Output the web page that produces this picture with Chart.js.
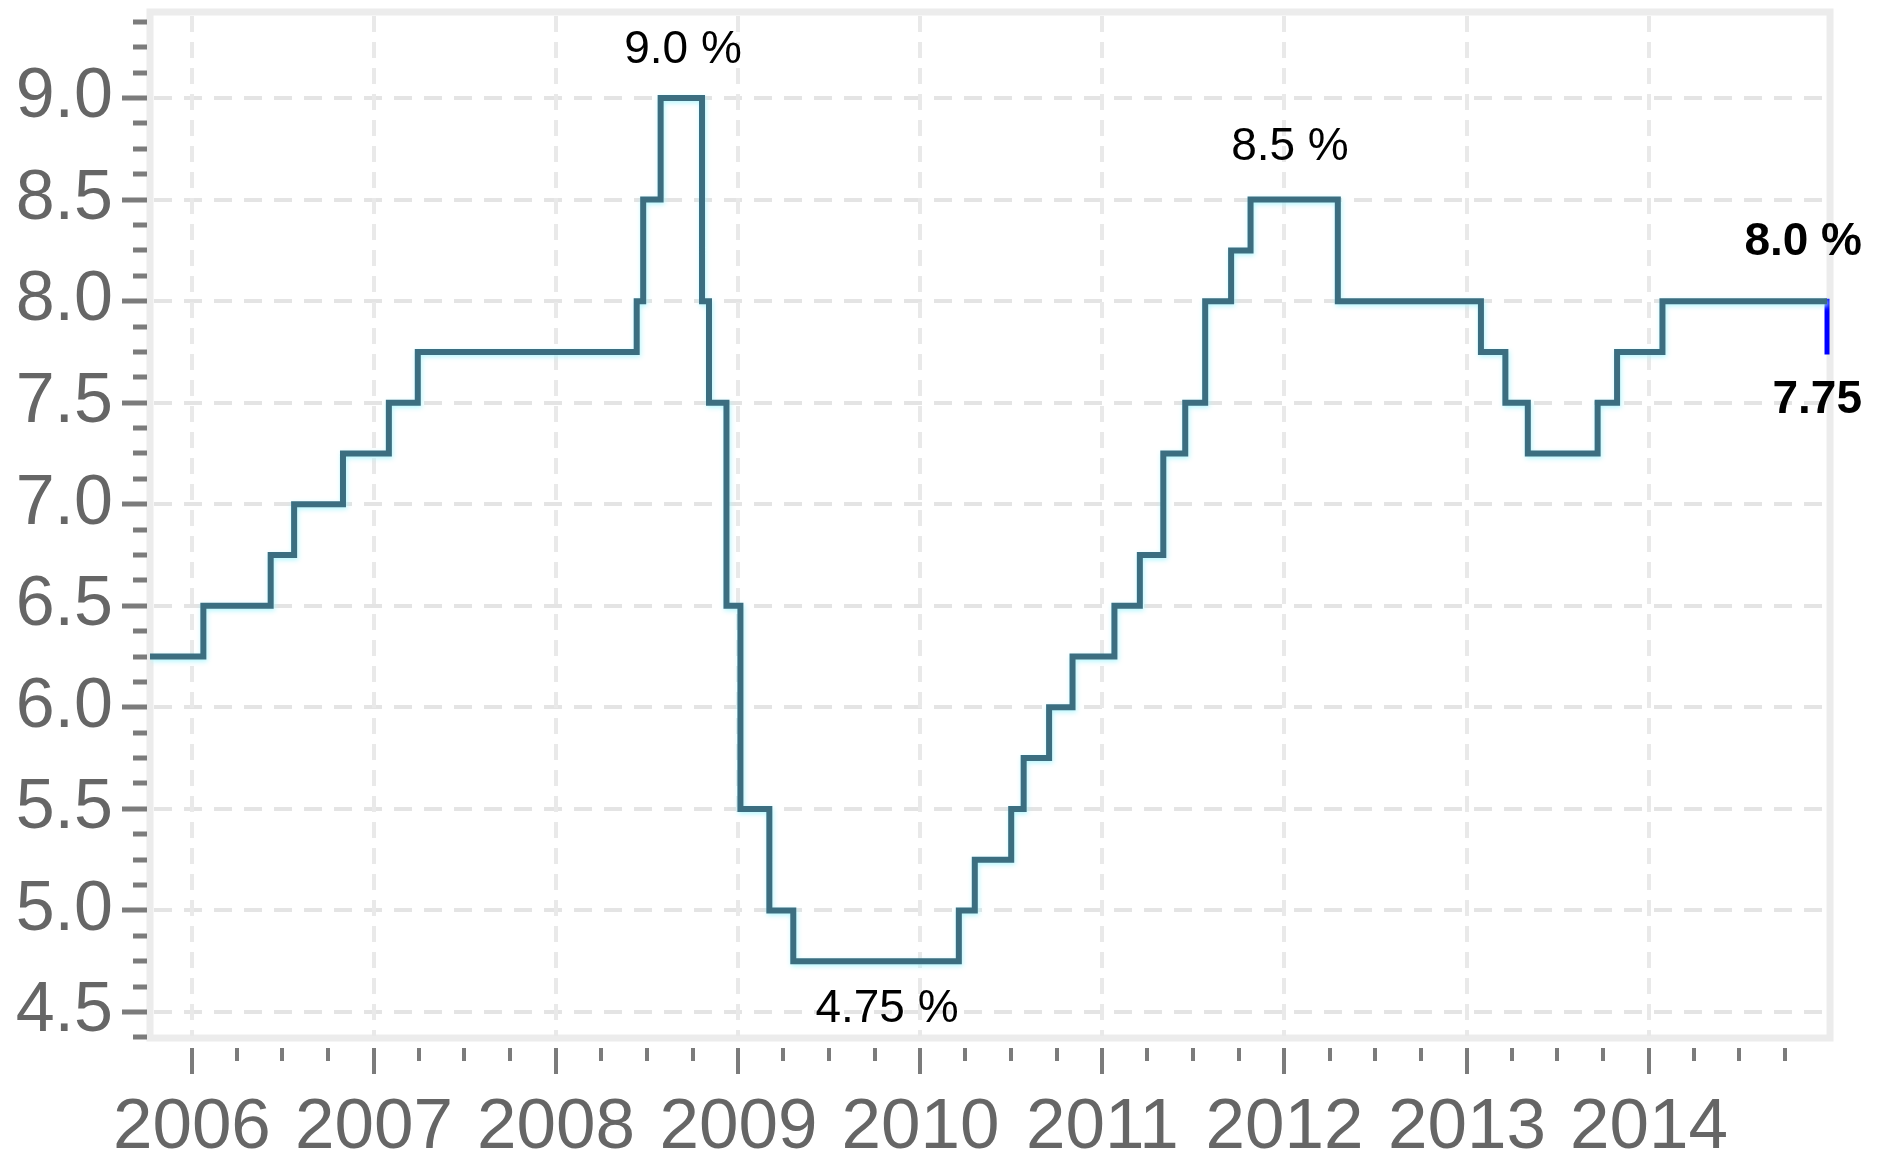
<!DOCTYPE html>
<html>
<head>
<meta charset="utf-8">
<script src="https://cdn.jsdelivr.net/npm/chart.js@4.4.1/dist/chart.umd.min.js"></script>
<style>
html,body{margin:0;padding:0;background:#fff;overflow:hidden}
#wrap{width:1885px;height:1158px}
canvas{display:block}
</style>
</head>
<body>
<div id="wrap"><canvas id="c" width="1885" height="1158"></canvas></div>
<script>
// ---- data ----
const changeDates = ['2005-10-09','2006-01-24','2006-06-08','2006-07-25','2006-10-31','2007-01-31','2007-03-30',
  '2008-06-11','2008-06-24','2008-07-29','2008-10-20','2008-11-03','2008-12-08','2009-01-05','2009-03-04','2009-04-21',
  '2010-03-19','2010-04-20','2010-07-02','2010-07-27','2010-09-16','2010-11-02','2011-01-25','2011-03-17','2011-05-03',
  '2011-06-16','2011-07-26','2011-09-16','2011-10-25','2012-04-17','2013-01-29','2013-03-19','2013-05-03','2013-09-20',
  '2013-10-29','2014-01-28','2014-12-24'];
const rates = [6.25,6.50,6.75,7.00,7.25,7.50,7.75,
  8.00,8.50,9.00,8.00,7.50,6.50,5.50,5.00,4.75,
  5.00,5.25,5.50,5.75,6.00,6.25,6.50,6.75,7.25,
  7.50,8.00,8.25,8.50,8.00,7.75,7.50,7.25,7.50,
  7.75,8.00,8.00];
const latestDate = '2014-12-24';
const latestValues = [8.0, 7.75];
const yearLabels = ['2006','2007','2008','2009','2010','2011','2012','2013','2014'];
const yTickLabels = ['4.5','5.0','5.5','6.0','6.5','7.0','7.5','8.0','8.5','9.0'];
const annotTexts  = ['9.0 %','4.75 %','8.5 %','8.0 %','7.75'];
const annotDates  = ['2008-09-12','2009-10-26','2012-01-12','2014-12-24','2014-12-24'];
const annotValues = [9.0, 4.75, 8.5, 8.0, 7.75];
const xRange = ['2005-10-09','2014-12-30'];
const yRange = [4.362, 9.409];

// ---- helpers ----
const t = s => Date.parse(s + 'T00:00:00Z');
const yearValues = yearLabels.map(y => t(y + '-01-01'));
const yMajorValues = yTickLabels.map(parseFloat);
const xMin = t(xRange[0]), xMax = t(xRange[1]);

const xTickValues = [];
for (let yr = 2005; yr <= 2015; yr++) {
  ['01','04','07','10'].forEach(m => {
    const v = t(yr + '-' + m + '-01');
    if (v > xMin && v < xMax) xTickValues.push(v);
  });
}
const yTickValues = [];
for (let v = 4.375; v <= 9.38; v += 0.125) yTickValues.push(Math.round(v * 1000) / 1000);

const isMajorY = v => yMajorValues.some(m => Math.abs(m - v) < 1e-6);

const annotStyles = [
  {bold:false, align:'center', dx:0,  dy:-35},
  {bold:false, align:'center', dx:0,  dy:61},
  {bold:false, align:'center', dx:0,  dy:-40},
  {bold:true,  align:'right',  dx:35, dy:-46},
  {bold:true,  align:'right',  dx:35, dy:61}
];

const FONT = "'Liberation Sans', Arial, sans-serif";

const decor = {
  id: 'decor',
  beforeDraw(chart) {
    const c = chart.ctx;
    c.save(); c.fillStyle = '#fff'; c.fillRect(0, 0, chart.width, chart.height); c.restore();
  },
  beforeDatasetsDraw(chart) {
    const {ctx, chartArea: a, scales: {x, y}} = chart;
    ctx.save();
    ctx.strokeStyle = '#ececec'; ctx.lineWidth = 7;
    ctx.strokeRect(a.left, a.top - 3, a.right - a.left, a.bottom - a.top + 1);
    ctx.lineWidth = 4;
    ctx.strokeStyle = '#e4e4e4';
    ctx.setLineDash([18, 12]);
    yMajorValues.forEach(v => {
      const py = Math.round(y.getPixelForValue(v));
      ctx.beginPath(); ctx.moveTo(a.left + 4, py); ctx.lineTo(a.right - 4, py); ctx.stroke();
    });
    ctx.strokeStyle = '#e9e9e9';
    ctx.setLineDash([16, 10]);
    yearValues.forEach(v => {
      const px = Math.round(x.getPixelForValue(v));
      ctx.beginPath(); ctx.moveTo(px, a.top + 1); ctx.lineTo(px, a.bottom - 4); ctx.stroke();
    });
    ctx.restore();
  },
  beforeDatasetDraw(chart, args) {
    if (args.index === 0) {
      const c = chart.ctx; c.save();
      c.shadowColor = 'rgba(175,248,255,0.95)'; c.shadowBlur = 5; c.shadowOffsetX = 1; c.shadowOffsetY = 2;
    }
  },
  afterDatasetDraw(chart, args) {
    if (args.index === 0) chart.ctx.restore();
  },
  afterDraw(chart) {
    const {ctx, chartArea: a, scales: {x, y}} = chart;
    ctx.save();
    ctx.strokeStyle = '#7b7b7b';
    ctx.lineWidth = 5;
    y.ticks.forEach(tk => {
      const py = Math.round(y.getPixelForValue(tk.value));
      const len = isMajorY(tk.value) ? 25 : 14;
      ctx.beginPath(); ctx.moveTo(a.left - 3 - len, py); ctx.lineTo(a.left - 3, py); ctx.stroke();
    });
    ctx.lineWidth = 4;
    x.ticks.forEach(tk => {
      const px = Math.round(x.getPixelForValue(tk.value));
      const len = yearValues.includes(tk.value) ? 26 : 13;
      ctx.beginPath(); ctx.moveTo(px, a.bottom + 8); ctx.lineTo(px, a.bottom + 8 + len); ctx.stroke();
    });
    ctx.fillStyle = '#000';
    ctx.textBaseline = 'alphabetic';
    annotTexts.forEach((txt, i) => {
      const st = annotStyles[i];
      ctx.font = (st.bold ? 'bold ' : '') + '46px ' + FONT;
      ctx.textAlign = st.align;
      ctx.fillText(txt, x.getPixelForValue(t(annotDates[i])) + st.dx, y.getPixelForValue(annotValues[i]) + st.dy);
    });
    ctx.restore();
  }
};

new Chart(document.getElementById('c'), {
  type: 'line',
  data: {
    datasets: [
      {
        data: changeDates.map((d, i) => ({x: t(d), y: rates[i]})),
        stepped: 'before',
        borderColor: '#3c6e80',
        borderWidth: 6,
        borderJoinStyle: 'miter',
        borderCapStyle: 'butt',
        pointRadius: 0,
        fill: false
      },
      {
        data: latestValues.map(v => ({x: t(latestDate), y: v})),
        borderColor: '#0000ff',
        borderWidth: 5,
        borderCapStyle: 'square',
        pointRadius: 0,
        fill: false
      }
    ]
  },
  options: {
    responsive: false,
    animation: false,
    devicePixelRatio: 1,
    layout: {padding: {left: 0, top: 15, right: 55, bottom: 0}},
    plugins: {legend: {display: false}, tooltip: {enabled: false}},
    scales: {
      x: {
        type: 'linear',
        min: xMin, max: xMax,
        grid: {display: false, drawTicks: false},
        border: {display: false},
        afterBuildTicks: s => { s.ticks = xTickValues.map(v => ({value: v})); },
        afterFit: s => { s.height = 118; s.paddingLeft = 0; s.paddingRight = 0; },
        ticks: {
          autoSkip: false, maxRotation: 0, minRotation: 0, padding: 46,
          color: '#666', font: {family: FONT, size: 71},
          callback: v => { const i = yearValues.indexOf(v); return i >= 0 ? yearLabels[i] : ''; }
        }
      },
      y: {
        type: 'linear',
        min: yRange[0], max: yRange[1],
        grid: {display: false, drawTicks: false},
        border: {display: false},
        afterBuildTicks: s => { s.ticks = yTickValues.map(v => ({value: v})); },
        afterFit: s => { s.width = 150; s.paddingTop = 0; s.paddingBottom = 0; },
        ticks: {
          autoSkip: false, padding: 37,
          color: '#666', font: {family: FONT, size: 70},
          callback: v => { const i = yMajorValues.findIndex(m => Math.abs(m - v) < 1e-6); return i >= 0 ? yTickLabels[i] : ''; }
        }
      }
    }
  },
  plugins: [decor]
});
</script>
</body>
</html>
